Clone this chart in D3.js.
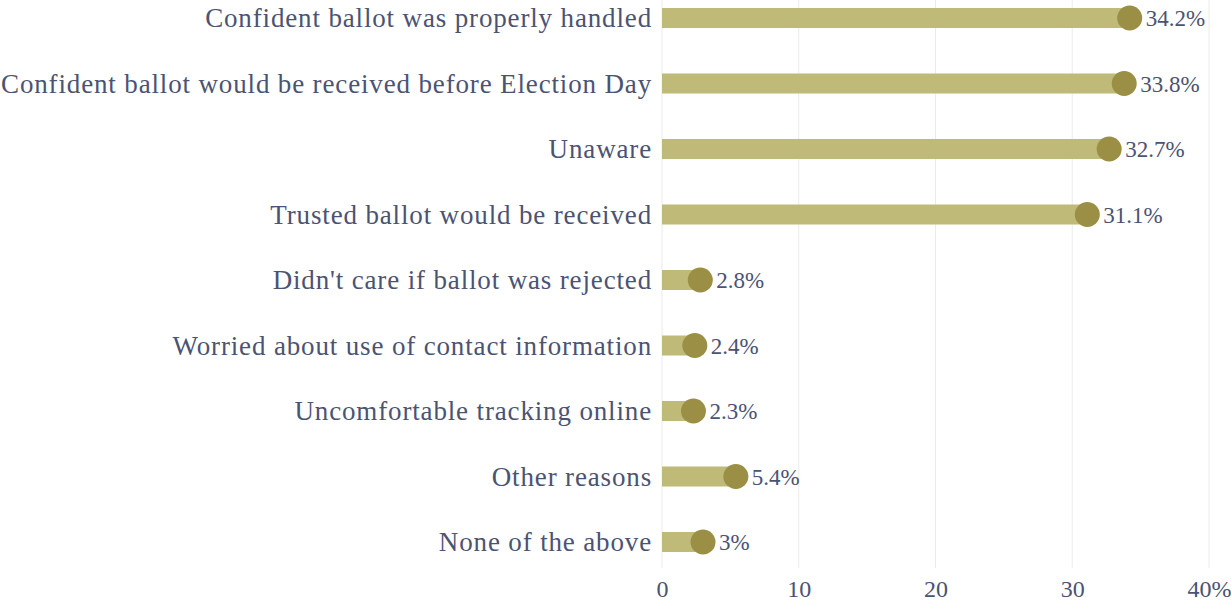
<!DOCTYPE html>
<html><head><meta charset="utf-8">
<script src="https://cdn.jsdelivr.net/npm/d3@7"></script>
<style>html,body{margin:0;padding:0;background:#fff;}</style>
</head><body>
<svg id="chart" width="1231" height="603"></svg>
<script>
const categories = [
  "Confident ballot was properly handled",
  "Confident ballot would be received before Election Day",
  "Unaware",
  "Trusted ballot would be received",
  "Didn't care if ballot was rejected",
  "Worried about use of contact information",
  "Uncomfortable tracking online",
  "Other reasons",
  "None of the above"
];
const values = [34.2, 33.8, 32.7, 31.1, 2.8, 2.4, 2.3, 5.4, 3];
const valueLabels = ["34.2%", "33.8%", "32.7%", "31.1%", "2.8%", "2.4%", "2.3%", "5.4%", "3%"];
const tickValues = [0, 10, 20, 30, 40];
const tickLabels = ["0", "10", "20", "30", "40%"];

const svg = d3.select("#chart");
const font = "'Liberation Serif', 'DejaVu Serif', serif";
const textColor = "#4b5372";

const x = d3.scaleLinear().domain([0, 40]).range([662, 1209]);
const y = d3.scaleBand().domain(categories).range([-14.75, 574.75]).paddingInner(0).paddingOuter(0);

// gridlines
svg.append("g").selectAll("line").data(tickValues).join("line")
  .attr("x1", d => x(d)).attr("x2", d => x(d))
  .attr("y1", 0).attr("y2", 568)
  .attr("stroke", "#ebebeb").attr("stroke-width", 1);

// x axis
const xAxis = d3.axisBottom(x).tickValues(tickValues).tickFormat((d, i) => tickLabels[i]).tickSize(0).tickPadding(0);
const gx = svg.append("g").attr("transform", "translate(0,580)").call(xAxis);
gx.select(".domain").remove();
gx.selectAll("text").attr("font-family", font).attr("font-size", 24).attr("fill", textColor).attr("dy", "0.71em");

const barH = 20;
const r = 12.5;
const rows = svg.append("g");
rows.selectAll("rect").data(values).join("rect")
  .attr("x", x(0))
  .attr("y", (d, i) => y(categories[i]) + y.bandwidth() / 2 - barH / 2)
  .attr("width", d => x(d) - x(0))
  .attr("height", barH)
  .attr("fill", "#bfba77");

rows.selectAll("circle").data(values).join("circle")
  .attr("cx", d => x(d))
  .attr("cy", (d, i) => y(categories[i]) + y.bandwidth() / 2)
  .attr("r", r)
  .attr("fill", "#9a8f44");

rows.selectAll("text.val").data(values).join("text").attr("class", "val")
  .attr("x", d => x(d) + 16)
  .attr("y", (d, i) => y(categories[i]) + y.bandwidth() / 2)
  .attr("dy", "0.35em")
  .attr("font-family", font).attr("font-size", 23).attr("fill", textColor)
  .text((d, i) => valueLabels[i]);

// category labels
const yAxis = d3.axisLeft(y).tickSize(0).tickPadding(0);
const gy = svg.append("g").attr("transform", "translate(652,0)").call(yAxis);
gy.select(".domain").remove();
gy.selectAll("text").attr("font-family", font).attr("font-size", 27).attr("fill", textColor)
  .attr("text-anchor", "end").attr("dy", "0.35em").attr("letter-spacing", "0.85px");
</script>
</body></html>
